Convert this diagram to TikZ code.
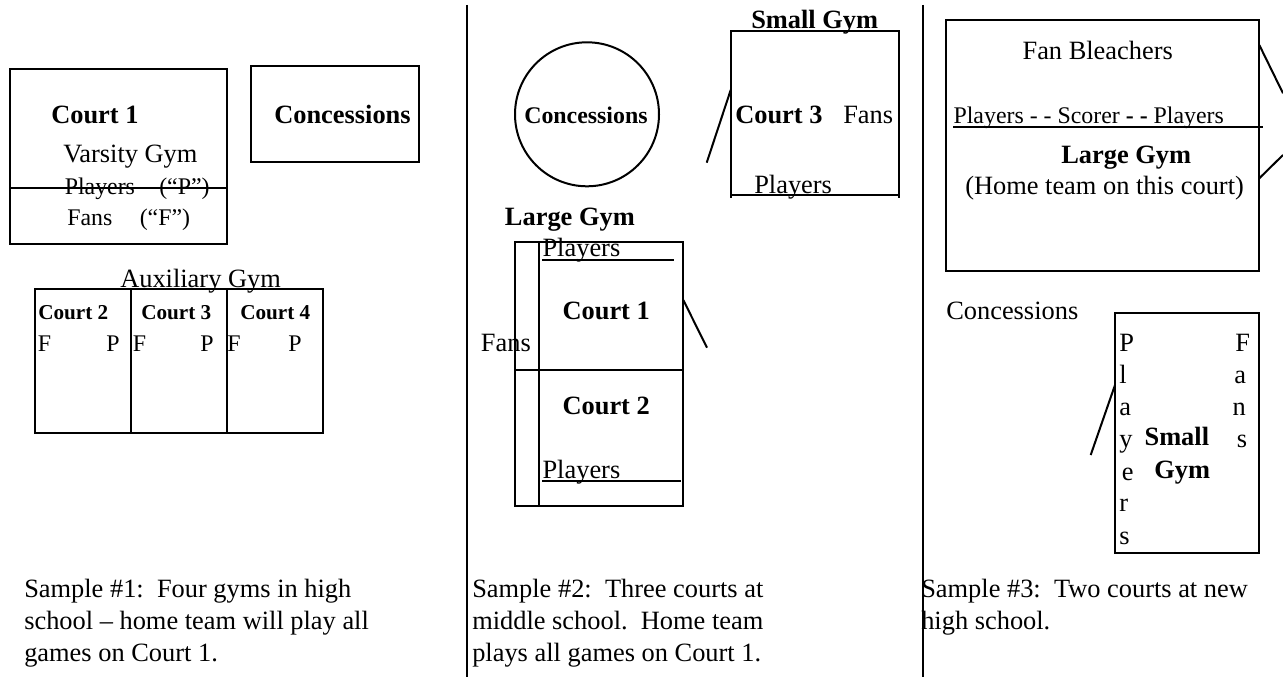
\documentclass[tikz,border=0pt]{standalone}
\usepackage{fontspec}
\setmainfont{Liberation Serif}
\newcommand{\bigsize}{\fontsize{19.8}{24}\selectfont}
\newcommand{\midsize}{\fontsize{17.9}{22}\selectfont}
\newcommand{\tinysize}{\fontsize{15.9}{20}\selectfont}

\begin{document}
\begin{tikzpicture}[
        x=0.75pt, y=-0.75pt,
        wall/.style={draw, line width=1.5pt},
        txt/.style={anchor=base west, inner sep=0pt, font=\bigsize},
        txtb/.style={anchor=base west, inner sep=0pt, font=\bigsize\bfseries},
        mid/.style={anchor=base west, inner sep=0pt, font=\midsize},
        midb/.style={anchor=base west, inner sep=0pt, font=\midsize\bfseries},
        tiny/.style={anchor=base west, inner sep=0pt, font=\tinysize\bfseries},
        round/.style={circle, wall, inner sep=0pt, minimum size=108pt}
    ]
        \useasboundingbox (0,0) rectangle (1283,677);

        % dividers
        \coordinate (d1a) at (467,5);
        \coordinate (d1b) at (467,677);
        \coordinate (d2a) at (922.7,5);
        \coordinate (d2b) at (922.7,677);
        \draw[wall] (d1a) -- (d1b);
        \draw[wall] (d2a) -- (d2b);

        % sample 1
        \draw[wall] (10,69) rectangle (227,244);
        \draw[wall] (10,188) -- (227,188);
        \draw[wall] (250.5,66) rectangle (419,162);
        \draw[wall] (34.7,289.5) rectangle (322.7,433.5);
        \draw[wall] (130.7,289.5) -- (130.7,433.5);
        \draw[wall] (227,289.5) -- (227,433.5);

        \node[txtb] (court1a) at (51,124) {Court 1};
        \node[txt]  (varsity) at (63,163) {Varsity Gym};
        \node[mid]  (playa) at (64.5,195) {Players};
        \node[mid]  (playb) at (159,195) {(“P”)};
        \node[mid]  (fana) at (67,226) {Fans};
        \node[mid]  (fanb) at (139.5,226) {(“F”)};
        \node[txtb] (conca) at (274,124) {Concessions};
        \node[txt]  (aux) at (120,288) {Auxiliary Gym};
        \node[tiny] (court2a) at (38,320) {Court 2};
        \node[tiny] (court3a) at (141,320) {Court 3};
        \node[tiny] (court4a) at (240,320) {Court 4};
        \node[mid]  (f2) at (37.7,352) {F};
        \node[mid]  (p2) at (106,352) {P};
        \node[mid]  (f3) at (132.7,352) {F};
        \node[mid]  (p3) at (200,352) {P};
        \node[mid]  (f4) at (227,352) {F};
        \node[mid]  (p4) at (288,352) {P};
        \node[txt]  (s1a) at (24,597.5) {Sample \#1:\ \ Four gyms in high};
        \node[txt]  (s1b) at (24,629.5) {school – home team will play all};
        \node[txt]  (s1c) at (24,661.5) {games on Court 1.};

        % sample 2
        \node[round] (concb) at (587,114.3) {};
        \node[midb] (conctxt) at (524,124) {Concessions};
        \draw[wall] (730.7,198) -- (730.7,30.7) -- (898.7,30.7) -- (898.7,198);
        \draw[wall] (730.7,195.3) -- (898.7,195.3);
        \draw[wall] (514.7,241.7) rectangle (682.7,505.7);
        \draw[wall] (538.7,241.7) -- (538.7,505.7);
        \draw[wall] (514.7,370) -- (682.7,370);
        \draw[wall] (542.3,260.3) -- (673.7,260.3);
        \draw[wall] (542.3,480.7) -- (681,480.7);

        \node[txtb] (smallb) at (751,28.7) {Small Gym};
        \node[txtb] (court3b) at (735,124) {Court 3};
        \node[txt]  (fanc) at (843,124) {Fans};
        \node[txt]  (playc) at (754,194) {Players};
        \node[txtb] (largeb) at (504.7,226) {Large Gym};
        \node[txt]  (playd) at (542.3,256.7) {Players};
        \node[txtb] (court1b) at (562.3,320) {Court 1};
        \node[txtb] (court2b) at (562.3,415) {Court 2};
        \node[txt]  (fand) at (480.7,352) {Fans};
        \node[txt]  (playe) at (542.3,478.3) {Players};
        \node[txt]  (s2a) at (472,597.5) {Sample \#2:\ \ Three courts at};
        \node[txt]  (s2b) at (472,629.5) {middle school.\ \ Home team};
        \node[txt]  (s2c) at (472,661.5) {plays all games on Court 1.};

        \coordinate (t1a) at (730.7,90);
        \coordinate (t1b) at (706.7,162.7);
        \coordinate (t2a) at (683.3,300);
        \coordinate (t2b) at (707,347.7);
        \draw[wall] (t1a) -- (t1b);
        \draw[wall] (t2a) -- (t2b);

        % sample 3
        \draw[wall] (946.3,19.7) rectangle (1258.7,270.7);
        \draw[wall] (953.3,126.7) -- (1262.7,126.7);
        \draw[wall] (1114.7,312.7) rectangle (1258.7,552.7);

        \node[txt]  (bleach) at (1022.3,60) {Fan Bleachers};
        \node[mid]  (score) at (953.3,124) {Players - - Scorer \textbf{- -} Players};
        \node[txtb] (largec) at (1061,163.3) {Large Gym};
        \node[txt]  (home) at (965,195) {(Home team on this court)};
        \node[txt]  (concc) at (946,320) {Concessions};
        \node[txtb] (smallc) at (1144.3,446) {Small};
        \node[txtb] (gymc) at (1154,478.3) {Gym};
        \node[txt]  (s3a) at (921,597.5) {Sample \#3:\ \ Two courts at new};
        \node[txt]  (s3b) at (921,629.5) {high school.};

        \foreach \ch/\px/\py in {P/1119/352, l/1119/384, a/1119/416, y/1119/448,
                e/1121.7/480, r/1119/512, s/1119/544}
            \node[txt] (pl\ch) at (\px,\py) {\ch};
        \foreach \ch/\px/\py in {F/1235/352, a/1234/384, n/1232.3/416, s/1236.7/448}
            \node[txt] (fn\ch) at (\px,\py) {\ch};

        \coordinate (u1a) at (1259.3,45);
        \coordinate (u1b) at (1283,93.3);
        \coordinate (u2a) at (1259.3,178.3);
        \coordinate (u2b) at (1283,155);
        \coordinate (u3a) at (1115,385);
        \coordinate (u3b) at (1090.7,455);
        \draw[wall] (u1a) -- (u1b);
        \draw[wall] (u2a) -- (u2b);
        \draw[wall] (u3a) -- (u3b);
    \end{tikzpicture}
\end{document}
